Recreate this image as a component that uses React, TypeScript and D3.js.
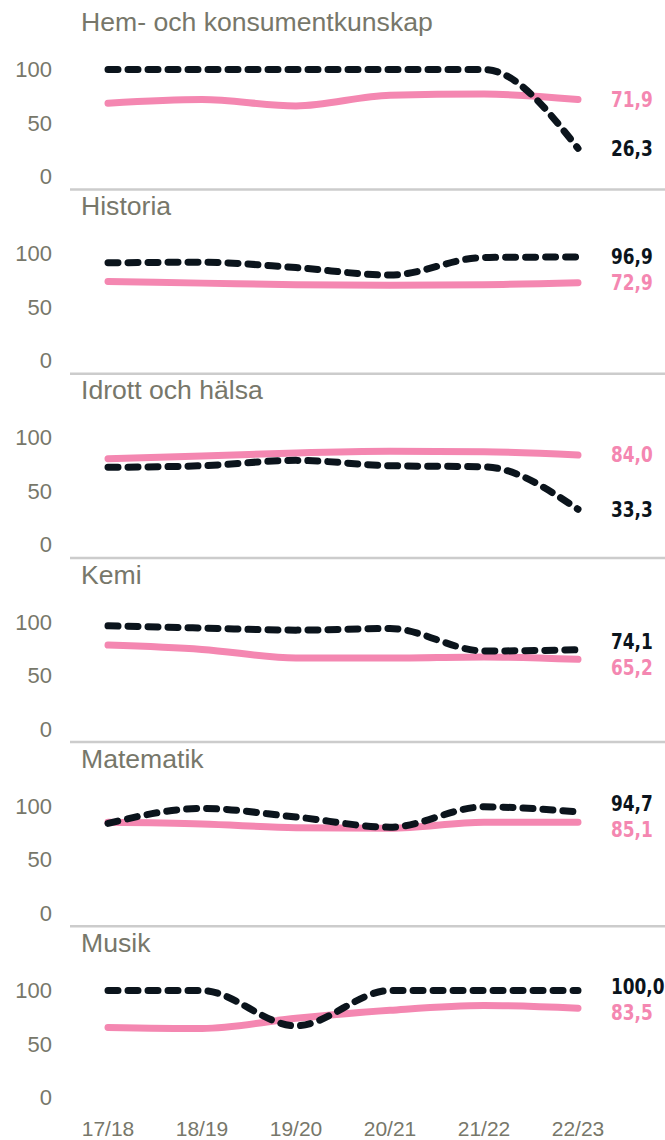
import React from 'react';
import * as d3 from 'd3';

// school years on the x axis
const years = ['17/18', '18/19', '19/20', '20/21', '21/22', '22/23'];

const subjects = [
  'Hem- och konsumentkunskap',
  'Historia',
  'Idrott och hälsa',
  'Kemi',
  'Matematik',
  'Musik',
];

// dashed black series, one array per subject
const hemBlack = [100, 100, 100, 100, 100, 26.3];
const hisBlack = [91.5, 92, 87, 80, 96.5, 96.9];
const idrBlack = [72.5, 74, 79, 74, 73, 33.3];
const kemBlack = [96.5, 94.5, 92.5, 94, 73, 74.1];
const matBlack = [84, 98, 90, 80.5, 99.5, 94.7];
const musBlack = [100, 100, 67, 100, 100, 100];

// solid pink series
const hemPink = [68.5, 72, 66, 76, 77, 71.9];
const hisPink = [74, 72.5, 71, 70.5, 71, 72.9];
const idrPink = [80.5, 83, 86, 87.5, 87, 84];
const kemPink = [78.5, 74.5, 66.5, 66.5, 67.5, 65.2];
const matPink = [85, 83.5, 80, 79.5, 85, 85.1];
const musPink = [65.5, 64.5, 74, 81.5, 86, 83.5];

const yTicks = [0, 50, 100];

const blackSeries = [hemBlack, hisBlack, idrBlack, kemBlack, matBlack, musBlack];
const pinkSeries = [hemPink, hisPink, idrPink, kemPink, matPink, musPink];

const PINK = '#f487b1';
const BLACK = '#0b141c';
const GREY = '#77776a';

const W = 665;
const H = 1140;
const PITCH = 184.2;

const fmt = (v: number) => d3.format('.1f')(v).replace('.', ',');

// bold label squeezed horizontally to look condensed
function EndLabel({ x, y, color, text }: { x: number; y: number; color: string; text: string }) {
  return (
    <text
      transform={`translate(${x},${y}) scale(0.77,1)`}
      fill={color}
      fontFamily="'DejaVu Sans', sans-serif"
      fontWeight="bold"
      fontSize={22}
      dominantBaseline="central"
    >
      {text}
    </text>
  );
}

export default function App() {
  const x = d3.scalePoint<string>().domain(years).range([108, 578]);
  const line = d3
    .line<number>()
    .x((_, i) => x(years[i]) as number)
    .y((d) => d)
    .curve(d3.curveMonotoneX);

  return (
    <svg
      width={W}
      height={H}
      style={{ position: 'absolute', left: 0, top: 0, display: 'block', background: '#fff' }}
      fontFamily="'Liberation Sans', Arial, sans-serif"
    >
      {subjects.map((name, p) => {
        const off = p * PITCH;
        const y = d3.scaleLinear().domain([0, 100]).range([176.5 + off, 69.5 + off]);
        const pinkPts = pinkSeries[p].map((v) => y(v));
        const blackPts = blackSeries[p].map((v) => y(v));

        // end labels, pushed apart when they collide
        const lastPink = pinkSeries[p][years.length - 1];
        const lastBlack = blackSeries[p][years.length - 1];
        let yp = y(lastPink);
        let yb = y(lastBlack);
        const gap = 26;
        if (Math.abs(yp - yb) < gap) {
          const mid = (yp + yb) / 2;
          if (yp > yb) {
            yp = mid + gap / 2;
            yb = mid - gap / 2;
          } else {
            yp = mid - gap / 2;
            yb = mid + gap / 2;
          }
        }

        return (
          <g key={name}>
            <text x={81} y={31 + off} fontSize={26.6} fill={GREY}>
              {name}
            </text>
            {yTicks.map((t) => (
              <text
                key={t}
                x={52}
                y={y(t)}
                fontSize={22}
                fill={GREY}
                textAnchor="end"
                dominantBaseline="central"
              >
                {t}
              </text>
            ))}
            <path
              d={line(pinkPts) || ''}
              fill="none"
              stroke={PINK}
              strokeWidth={7}
              strokeLinecap="round"
            />
            <path
              d={line(blackPts) || ''}
              fill="none"
              stroke={BLACK}
              strokeWidth={7}
              strokeLinecap="round"
              strokeDasharray="10 10"
            />
            <EndLabel x={611} y={yp} color={PINK} text={fmt(lastPink)} />
            <EndLabel x={611} y={yb} color={BLACK} text={fmt(lastBlack)} />
            {p < subjects.length - 1 && (
              <line x1={70} x2={W} y1={189.5 + off} y2={189.5 + off} stroke="#cccccc" strokeWidth={2.5} />
            )}
          </g>
        );
      })}
      {years.map((yr) => (
        <text key={yr} x={x(yr)} y={1136} fontSize={21} fill={GREY} textAnchor="middle">
          {yr}
        </text>
      ))}
    </svg>
  );
}
